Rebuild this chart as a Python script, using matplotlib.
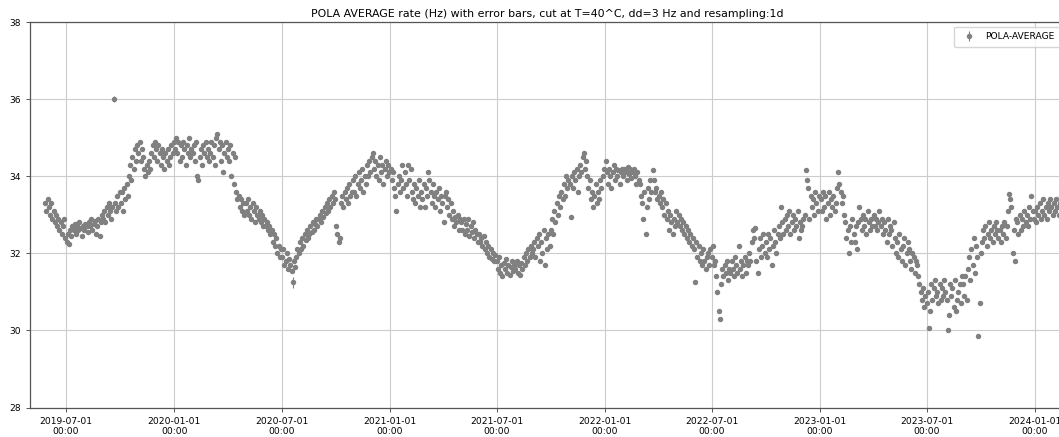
import matplotlib
matplotlib.use("Agg")
import matplotlib.pyplot as plt
import matplotlib.dates as mdates
import numpy as np
import pandas as pd

# daily-resampled rate (Hz), every second day
vals_2019 = [  # from 2019-05-27
    33.3, 33.1, 33.4,
    33.2, 33.0, 33.3, 32.9, 33.1, 32.8, 33.0, 32.7, 32.9, 32.6, 32.8, 32.5, 32.7, 32.9, 32.4,
    32.3, 32.5, 32.25, 32.6, 32.45, 32.7, 32.6, 32.75, 32.5, 32.7, 32.6, 32.8, 32.65, 32.45, 32.7,
    32.6, 32.75, 32.7, 32.55, 32.8, 32.7, 32.9, 32.6, 32.75, 32.85, 32.5, 32.7, 32.9, 32.45, 32.8, 33.0,
    32.9, 33.1, 32.8, 33.2, 33.0, 33.3, 33.1, 32.9, 33.2, 36.0, 33.3, 33.1, 33.5, 33.2, 33.6,
    33.3, 33.6, 33.1, 33.7, 33.4, 33.8, 33.5, 34.0, 34.3, 33.9, 34.5, 34.2, 34.7, 34.4, 34.8,
    34.6, 34.9, 34.4, 34.7, 34.5, 34.2, 34.0, 34.3, 34.1, 34.4, 34.2, 34.6, 34.8, 34.5, 34.9,
    34.7, 34.4, 34.8, 34.6, 34.3, 34.7, 34.5, 34.2, 34.6, 34.4, 34.7, 34.3, 34.5, 34.8, 34.6, 34.9,
]
vals_2020 = [  # from 2020-01-02
    34.7, 35.0, 34.6, 34.9, 34.4, 34.8, 34.5, 34.9, 34.7, 34.3, 34.8, 34.6, 35.0, 34.5, 34.7,
    34.6, 34.8, 34.4, 34.9, 34.0, 33.9, 34.5, 34.7, 34.3, 34.8, 34.6, 34.9, 34.5, 34.7, 34.4,
    34.6, 34.9, 34.5, 34.8, 34.3, 35.0, 35.1, 34.7, 34.9, 34.4, 34.8, 34.1, 34.6, 34.9, 34.5,
    34.7, 34.4, 34.8, 34.0, 34.6, 33.8, 34.5, 33.6, 33.4, 33.5, 33.2, 33.4, 33.1, 33.3, 33.0,
    33.3, 33.1, 33.4, 33.0, 33.2, 32.9, 33.3, 33.1, 32.8, 33.2, 33.0, 32.9, 33.1, 32.8, 33.0, 32.7,
    32.9, 32.7, 32.8, 32.6, 32.7, 32.5, 32.6, 32.3, 32.5, 32.2, 32.4, 32.0, 32.2, 31.9, 32.1,
    31.9, 32.1, 31.7, 31.8, 32.0, 31.6, 31.85, 31.7, 31.55, 31.25, 31.8, 31.65, 31.9, 32.1, 32.0,
    32.3, 32.1, 32.4, 32.2, 32.5, 32.35, 32.6, 32.4, 32.5, 32.7, 32.55, 32.8, 32.6, 32.75, 32.9, 32.7,
    32.9, 33.0, 32.8, 33.1, 32.95, 33.2, 33.05, 33.3, 33.1, 33.4, 33.2, 33.5, 33.3, 33.6, 33.4,
    32.7, 32.5, 32.3, 32.4, 33.3, 33.5, 33.2, 33.6, 33.4, 33.7, 33.3, 33.8, 33.5, 33.6, 33.9,
    33.6, 34.0, 33.5, 33.8, 34.1, 33.7, 33.9, 34.2, 33.6, 34.0, 33.8, 34.3, 34.0, 34.4, 34.1,
    34.5, 34.6, 34.2, 34.4, 34.0, 34.3, 33.9, 34.5, 34.1, 34.3, 33.8, 34.2, 34.4, 34.0, 34.3, 34.1,
]
vals_2021 = [  # from 2021-01-02
    34.2, 33.9, 34.1, 33.7, 33.5, 33.1, 33.8, 34.0, 33.6, 33.9, 34.3, 33.7, 34.1, 33.8, 33.5,
    34.3, 33.9, 34.2, 33.6, 33.4, 33.8, 33.3, 33.7, 33.5, 33.9, 33.2, 33.6, 33.4, 33.8,
    33.2, 33.7, 33.5, 34.1, 33.9, 33.6, 33.3, 33.8, 33.5, 33.2, 33.6, 33.4, 33.7, 33.1, 33.5, 33.3,
    32.8, 33.5, 33.6, 33.2, 33.4, 33.0, 33.3, 32.9, 33.1, 32.7, 32.95, 32.8, 33.0, 32.6, 32.9,
    32.8, 32.6, 32.9, 32.5, 32.75, 32.6, 32.9, 32.45, 32.7, 32.55, 32.8, 32.4, 32.6, 32.5, 32.3,
    32.5, 32.3, 32.4, 32.2, 32.45, 32.1, 32.3, 32.0, 32.2, 31.9, 32.1, 31.85, 32.0, 31.8, 31.95,
    31.8, 31.6, 31.9, 31.5, 31.7, 31.4, 31.75, 31.6, 31.85, 31.5, 31.7, 31.45, 31.65, 31.8, 31.55, 31.7,
    31.6, 31.8, 31.5, 31.7, 31.45, 31.75, 31.6, 31.9, 31.7, 32.0, 31.8, 32.1, 31.9, 32.2, 32.0,
    32.1, 32.3, 31.9, 32.4, 32.2, 32.5, 31.8, 32.3, 32.0, 32.6, 31.7, 32.4, 32.1, 32.5, 32.2,
    32.6, 32.9, 32.5, 33.1, 32.8, 33.3, 33.0, 33.5, 33.2, 33.6, 33.4, 33.8, 33.5, 34.0, 33.7, 33.9,
    33.8, 32.95, 34.0, 33.7, 34.1, 33.9, 34.2, 33.6, 34.0, 34.3, 34.1, 34.5, 34.6, 34.2, 34.4,
    34.0, 33.7, 33.9, 33.4, 33.6, 33.2, 33.5, 33.8, 33.3, 33.6, 33.4, 33.9, 33.7, 34.0, 34.2,
]
vals_2022 = [  # from 2022-01-02
    34.4, 34.1, 33.8, 34.2, 34.0, 33.7, 34.1, 34.3, 33.9, 34.2, 34.0, 34.15, 33.8, 34.1, 34.2,
    34.0, 34.2, 34.1, 33.9, 34.25, 34.05, 34.2, 33.95, 34.1, 34.2, 34.0, 33.8, 34.1, 33.9,
    33.8, 33.5, 33.3, 32.9, 33.6, 32.5, 33.2, 33.7, 33.4, 33.9, 33.6, 34.15, 33.9, 33.6, 33.7, 33.4,
    33.5, 33.3, 33.6, 33.2, 33.4, 33.0, 33.3, 32.9, 33.1, 32.6, 33.0, 32.8, 32.5, 32.9, 32.7,
    33.1, 32.8, 33.0, 32.7, 32.9, 32.6, 32.8, 32.5, 32.7, 32.4, 32.6, 32.3, 32.5, 32.2, 32.4,
    32.1, 31.25, 32.3, 31.9, 32.2, 31.8, 32.0, 31.7, 32.1, 31.8, 31.6, 31.9, 32.0, 31.7, 32.1,
    31.9, 32.2, 31.7, 31.8, 31.4, 31.0, 30.5, 30.3, 31.2, 31.6, 31.4, 31.7, 31.5, 31.8, 31.3, 31.6,
    31.5, 31.8, 31.6, 31.4, 31.9, 31.7, 31.5, 32.2, 31.6, 31.8, 31.4, 31.7, 31.9, 31.5, 31.8,
    31.7, 32.0, 31.8, 32.3, 32.6, 32.4, 32.65, 31.8, 31.5, 32.1, 32.4, 31.9, 32.2, 32.5, 32.0,
    32.3, 31.9, 32.5, 32.1, 32.4, 31.7, 32.2, 32.6, 32.3, 32.0, 32.5, 32.7, 32.4, 33.2, 32.8, 32.5,
    32.9, 32.6, 33.0, 32.7, 33.1, 32.5, 32.8, 33.0, 32.6, 32.9, 32.7, 33.1, 32.4, 32.8, 32.6,
    32.7, 32.9, 33.0, 34.15, 33.9, 33.7, 32.9, 33.5, 33.2, 33.4, 33.0, 33.6, 33.3, 33.1, 33.5,
]
vals_2023 = [  # from 2023-01-02
    33.4, 33.1, 33.6, 33.2, 33.5, 32.9, 33.3, 33.6, 33.0, 33.4, 33.2, 33.5, 33.1, 33.3, 33.7,
    34.1, 33.8, 33.6, 33.3, 33.5, 33.0, 32.8, 32.4, 32.6, 32.0, 32.7, 32.3, 32.9, 32.5,
    32.3, 32.7, 32.1, 32.8, 33.2, 32.9, 32.6, 33.0, 32.7, 32.9, 32.5, 33.1, 32.8, 32.6, 32.9, 32.7,
    33.0, 32.7, 32.9, 32.6, 32.8, 33.1, 32.7, 32.9, 32.5, 32.8, 32.6, 32.3, 32.9, 32.5, 32.7,
    32.6, 32.2, 32.8, 32.4, 32.0, 32.3, 31.9, 32.5, 32.1, 31.8, 32.2, 32.4, 31.7, 32.0, 32.3,
    32.1, 31.8, 31.6, 32.0, 31.9, 31.5, 31.8, 31.7, 31.4, 31.2, 31.0, 30.8, 31.1, 30.6, 30.9,
    30.7, 31.0, 30.05, 30.5, 31.2, 30.8, 31.1, 31.3, 30.9, 31.0, 30.7, 31.2, 30.8, 31.1, 30.9, 31.3,
    31.0, 30.8, 30.0, 30.4, 31.2, 30.9, 31.1, 30.6, 31.3, 30.5, 30.8, 31.0, 31.2, 30.7, 31.4,
    31.2, 30.9, 31.4, 30.8, 31.6, 31.9, 31.3, 32.1, 31.7, 32.4, 31.5, 32.2, 31.9, 29.85, 30.7,
    32.0, 32.3, 32.6, 32.4, 32.7, 32.2, 32.5, 32.8, 32.4, 32.6, 32.3, 32.7, 32.5, 32.8, 32.6, 32.4,
    32.6, 32.3, 32.7, 32.5, 32.8, 32.4, 32.7, 33.1, 33.55, 33.4, 33.2, 32.0, 32.6, 31.8, 32.9,
    32.8, 32.5, 33.0, 32.6, 32.9, 32.7, 33.1, 32.8, 33.0, 32.7, 33.2, 32.9, 33.5, 33.1, 32.9,
]
vals_2024 = [  # from 2024-01-01
    33.1, 32.8, 33.2, 33.0, 33.3, 32.9, 33.1, 33.4, 33.0, 33.2, 32.9, 33.3, 33.1, 33.4, 33.2, 33.0,
    33.3, 33.1, 33.4, 33.2, 33.0, 33.3, 33.5, 33.2, 33.4, 33.1,
]
starts = ["2019-05-27", "2020-01-02", "2021-01-02", "2022-01-02", "2023-01-02", "2024-01-01"]
base_err = 0.03
big_err = {"2019-09-20": 0.07, "2020-07-20": 0.14}

parts = []
for start, vals in zip(starts, [vals_2019, vals_2020, vals_2021, vals_2022, vals_2023, vals_2024]):
    parts.append(pd.Series(vals, index=pd.date_range(start, periods=len(vals), freq="2D")))
rate = pd.concat(parts)
err = pd.Series(base_err, index=rate.index)
for d, e in big_err.items():
    err[pd.Timestamp(d)] = e

fig = plt.figure(figsize=(10.59, 4.37), dpi=100)
ax = fig.add_axes([30 / 1059, 0.0675, 1035 / 1059, 0.882])

ax.errorbar(rate.index, rate.values, yerr=err.values, fmt='o', color='grey',
            ms=2.9, elinewidth=0.8, label='POLA-AVERAGE')

ax.set_ylim(28, 38)
ax.set_xlim(pd.Timestamp("2019-05-01"), pd.Timestamp("2024-02-21"))
ax.xaxis.set_major_locator(mdates.MonthLocator(bymonth=[1, 7]))
ax.xaxis.set_major_formatter(mdates.DateFormatter('%Y-%m-%d\n%H:%M'))
ax.set_yticks([28, 30, 32, 34, 36, 38])
ax.tick_params(labelsize=6.6, length=3, width=0.7, color='#555555')
ax.grid(True, color='#cccccc', lw=0.8)
ax.set_axisbelow(True)
for sp in ax.spines.values():
    sp.set_color('#555555')
    sp.set_linewidth(0.9)

ax.set_title('POLA AVERAGE rate (Hz) with error bars, cut at T=40^C, dd=3 Hz and resampling:1d',
             fontsize=7.9, pad=4)
ax.legend(loc='upper right', fontsize=6.6, borderpad=0.6)

fig.savefig('out.png', dpi=100)
